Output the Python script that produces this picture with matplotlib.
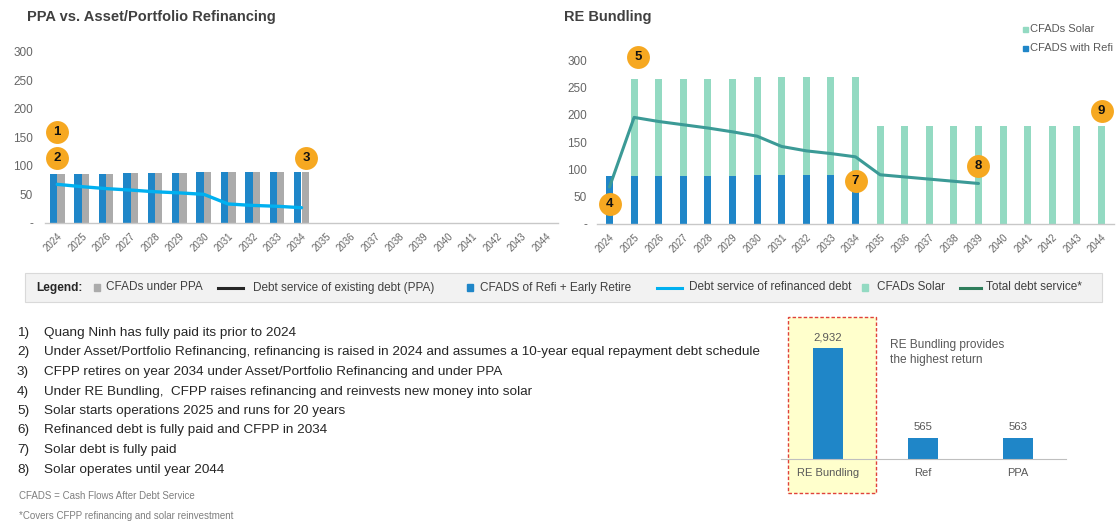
import matplotlib
matplotlib.use("Agg")
import matplotlib.pyplot as plt
from matplotlib.patches import Rectangle
from matplotlib.lines import Line2D
from matplotlib.transforms import ScaledTranslation

plt.rcParams['font.family'] = ['Liberation Sans', 'DejaVu Sans']

W, H, DPI = 1119, 524, 100

# ---- data -------------------------------------------------------------
years = list(range(2024, 2045))
year_labels = [str(y) for y in years]

# PPA vs. Asset/Portfolio Refinancing, 2024-2034
refi_cfads = [86, 86, 86, 87, 87, 87, 88, 88, 88, 88, 89]
ppa_cfads = [86, 86, 86, 87, 87, 87, 88, 88, 88, 88, 89]
refi_debt_service = [67, 63, 59.5, 57, 54, 52, 49.5, 32.5, 30, 28.5, 26]

# RE Bundling
bundle_refi_cfads = [87, 87, 87, 87, 87, 87, 89, 89, 89, 89, 89]          # 2024-2034
bundle_solar_cfads = [0, 179, 179, 180, 180, 180, 180, 180, 180, 180, 180,
                      179, 179, 179, 179, 179, 179, 179, 179, 179, 179]     # 2024-2044
total_debt_service = [67.5, 195.5, 188, 182, 176, 169, 161, 142, 134, 129,
                      123, 90, 86, 82, 78, 74]                              # 2024-2039

# Returns comparison
ret_labels = ['RE Bundling', 'Ref', 'PPA']
ret_values = [2932, 565, 563]

y_ticks = [0, 50, 100, 150, 200, 250, 300]
y_tick_labels = ['-', '50', '100', '150', '200', '250', '300']

notes = [
    "Quang Ninh has fully paid its prior to 2024",
    "Under Asset/Portfolio Refinancing, refinancing is raised in 2024 and assumes a 10-year equal repayment debt schedule",
    "CFPP retires on year 2034 under Asset/Portfolio Refinancing and under PPA",
    "Under RE Bundling,  CFPP raises refinancing and reinvests new money into solar",
    "Solar starts operations 2025 and runs for 20 years",
    "Refinanced debt is fully paid and CFPP in 2034",
    "Solar debt is fully paid",
    "Solar operates until year 2044",
]

# ---- colours ----------------------------------------------------------
BLUE = '#1F86C8'
GRAY_BAR = '#ABABAB'
LIGHT_BLUE = '#00B0F0'
MINT = '#93DAC2'
TEAL = '#3B9A96'
DARK_GREEN = '#2E7D5B'
BADGE = '#F6A821'
TXT = '#262626'
TICK = '#666666'

fig = plt.figure(figsize=(W / DPI, H / DPI), dpi=DPI)


def fx(px):
    return px / W


def fy(py):
    return 1 - py / H


def axes_px(left, right, bottom, top):
    return fig.add_axes([fx(left), fy(bottom), (right - left) / W, (bottom - top) / H])


def style_axes(ax, pad_y):
    for s in ('top', 'right', 'left'):
        ax.spines[s].set_visible(False)
    ax.spines['bottom'].set_color('#C8C8C8')
    ax.spines['bottom'].set_linewidth(1.0)
    ax.patch.set_visible(False)
    ax.set_xlim(-0.5, len(years) - 0.5)
    ax.set_xticks(range(len(years)))
    ax.set_xticklabels(year_labels, rotation=45, ha='right', va='top',
                       rotation_mode='anchor', fontsize=7, color=TICK)
    shift = ScaledTranslation(-4 / DPI, 0, fig.dpi_scale_trans)
    for lab in ax.get_xticklabels():
        lab.set_transform(lab.get_transform() + shift)
    ax.set_ylim(0, 300)
    ax.set_yticks(y_ticks)
    ax.set_yticklabels(y_tick_labels, fontsize=8.5, color=TICK)
    ax.tick_params(axis='x', length=0, pad=6)
    ax.tick_params(axis='y', length=0, pad=pad_y)


def badge(ax, x, y, label):
    ax.plot([x], [y], marker='o', ms=16.5, color=BADGE, mec='none',
            clip_on=False, zorder=6)
    ax.text(x, y, label, ha='center', va='center', fontsize=9.5,
            fontweight='bold', color='#111111', zorder=7, clip_on=False)


# ---- PPA vs. Asset/Portfolio Refinancing -----------------------------
ax1 = axes_px(45, 558, 222.5, 51.7)
style_axes(ax1, pad_y=8.6)
idx1 = list(range(len(refi_cfads)))
# refinancing bar sits left of the year, PPA bar right of it
ax1.bar([i - 0.3 for i in idx1], refi_cfads, width=0.3, align='edge',
        color=BLUE, zorder=2)
ax1.bar(idx1, ppa_cfads, width=0.3, align='edge', color=GRAY_BAR, zorder=2)
ax1.plot(idx1, refi_debt_service, color=LIGHT_BLUE, lw=2.4,
         solid_joinstyle='round', solid_capstyle='round', zorder=3)
badge(ax1, 0, 159.5, '1')
badge(ax1, 0, 113, '2')
badge(ax1, 10.2, 113, '3')
fig.text(fx(27), fy(17), 'PPA vs. Asset/Portfolio Refinancing', fontsize=10.5,
         fontweight='bold', color='#404040', ha='left', va='center')

# ---- RE Bundling ------------------------------------------------------
ax2 = axes_px(597.2, 1113.8, 223.7, 60.6)
style_axes(ax2, pad_y=7.2)
idx_refi = list(range(len(bundle_refi_cfads)))
ax2.bar(idx_refi, bundle_refi_cfads, width=0.29, color=BLUE, zorder=2)
solar_bottom = bundle_refi_cfads + [0] * (len(years) - len(bundle_refi_cfads))
ax2.bar(range(len(years)), bundle_solar_cfads, width=0.29,
        bottom=solar_bottom, color=MINT, zorder=2)
ax2.plot(range(len(total_debt_service)), total_debt_service, color=TEAL,
         lw=2.2, solid_joinstyle='round', solid_capstyle='round', zorder=3)
badge(ax2, 0, 36, '4')
badge(ax2, 1.15, 306, '5')
badge(ax2, 10, 79, '7')
badge(ax2, 15, 106, '8')
badge(ax2, 20, 208, '9')
fig.text(fx(564), fy(17), 'RE Bundling', fontsize=10.5, fontweight='bold',
         color='#404040', ha='left', va='center')

# series key in the top-right corner
for y_c, col, lab in ((29.5, MINT, 'CFADs Solar'), (48, BLUE, 'CFADS with Refi')):
    fig.patches.append(Rectangle((fx(1023), fy(y_c + 2.5)), 5 / W, 5 / H,
                                 transform=fig.transFigure, color=col))
    fig.text(fx(1030), fy(y_c), lab, fontsize=8, color='#595959',
             ha='left', va='center')

# ---- shared legend band ----------------------------------------------
fig.patches.append(Rectangle((fx(25), fy(302)), 1077 / W, 29 / H,
                             transform=fig.transFigure, facecolor='#F2F2F2',
                             edgecolor='#D9D9D9', lw=0.8, zorder=0))
LY = 287.5
fig.text(fx(36), fy(LY), 'Legend:', fontsize=8.6, fontweight='bold',
         color=TXT, ha='left', va='center')


def key_square(x0, col):
    fig.patches.append(Rectangle((fx(x0), fy(LY + 3.5)), 6 / W, 7 / H,
                                 transform=fig.transFigure, color=col, zorder=2))


def key_line(x0, x1, col):
    fig.lines.append(Line2D([fx(x0), fx(x1)], [fy(LY), fy(LY)], lw=2.2,
                            color=col, transform=fig.transFigure, zorder=2))


def key_text(x0, s):
    fig.text(fx(x0), fy(LY), s, fontsize=8.5, color='#404040',
             ha='left', va='center')


key_square(94, GRAY_BAR)
key_text(106, 'CFADs under PPA')
key_line(218, 243, TXT)
key_text(253, 'Debt service of existing debt (PPA)')
key_square(466.5, BLUE)
key_text(480, 'CFADS of Refi + Early Retire')
key_line(657, 682, LIGHT_BLUE)
key_text(689, 'Debt service of refinanced debt')
key_square(862, MINT)
key_text(877, 'CFADs Solar')
key_line(960, 981, DARK_GREEN)
key_text(986, 'Total debt service*')

# ---- numbered notes ---------------------------------------------------
for i, line in enumerate(notes):
    yc = 333 + i * 19.5
    fig.text(fx(17), fy(yc), f'{i + 1})', fontsize=9.7, color=TXT,
             ha='left', va='center')
    fig.text(fx(44), fy(yc), line, fontsize=9.7, color=TXT,
             ha='left', va='center')
fig.text(fx(19), fy(496), 'CFADS = Cash Flows After Debt Service', fontsize=7,
         color='#7F7F7F', ha='left', va='center')
fig.text(fx(19), fy(516), '*Covers CFPP refinancing and solar reinvestment',
         fontsize=7, color='#7F7F7F', ha='left', va='center')

# ---- returns comparison ----------------------------------------------
fig.patches.append(Rectangle((fx(788), fy(493)), 88 / W, 176 / H,
                             transform=fig.transFigure, facecolor='#FFFFCC',
                             edgecolor='#E0413A', lw=1.0,
                             linestyle=(0, (2.5, 1.5)), zorder=-1))
ax3 = axes_px(780.5, 1065.5, 459.3, 459.3 - 113.6)
ax3.patch.set_visible(False)
for s in ('top', 'right', 'left'):
    ax3.spines[s].set_visible(False)
ax3.spines['bottom'].set_color('#BFBFBF')
ax3.bar(range(len(ret_values)), ret_values, width=0.316, color=BLUE)
ax3.set_xlim(-0.5, 2.5)
ax3.set_ylim(0, 3000)
ax3.set_yticks([])
ax3.set_xticks(range(len(ret_labels)))
ax3.set_xticklabels(ret_labels, fontsize=8, color='#595959')
ax3.tick_params(axis='x', length=0, pad=6.5)
for i, v in enumerate(ret_values):
    ax3.annotate(f'{v:,}', (i, v), xytext=(0, 8), textcoords='offset points',
                 ha='center', va='center', fontsize=8.2, color='#595959',
                 annotation_clip=False)
fig.text(fx(890), fy(345), 'RE Bundling provides', fontsize=8.6,
         color='#595959', ha='left', va='center')
fig.text(fx(890), fy(360), 'the highest return', fontsize=8.6,
         color='#595959', ha='left', va='center')

fig.savefig('out.png', dpi=DPI)
